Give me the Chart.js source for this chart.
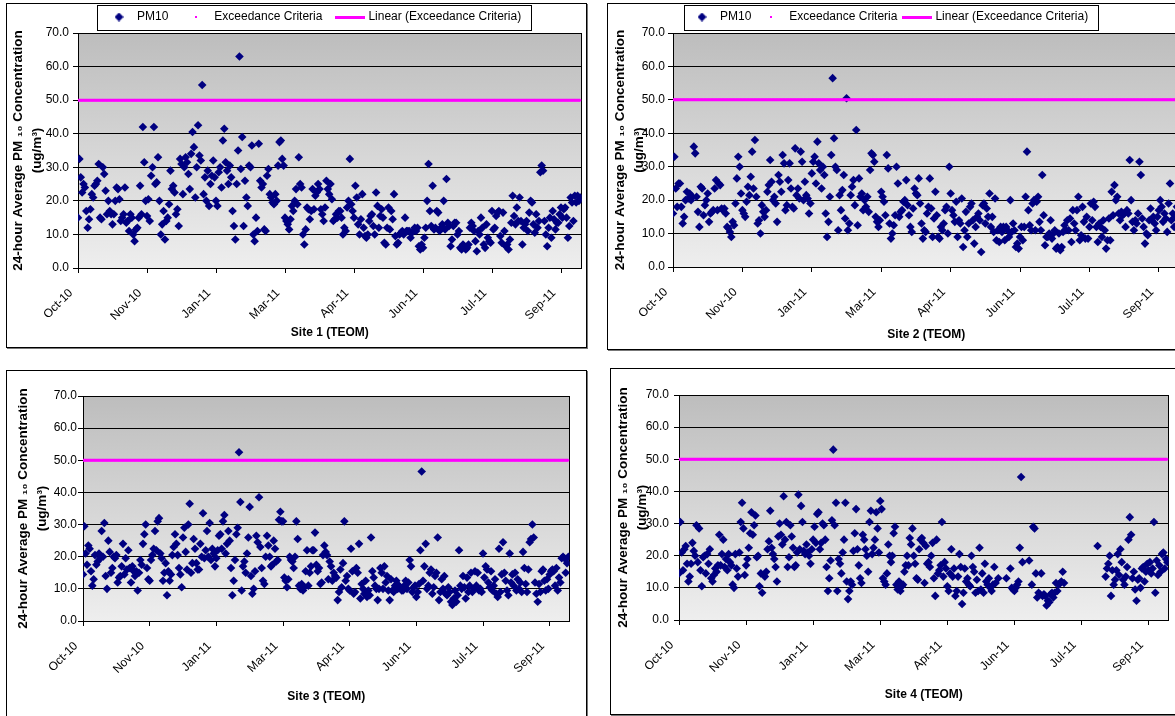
<!DOCTYPE html>
<html>
<head>
<meta charset="utf-8">
<script src="https://cdn.jsdelivr.net/npm/chart.js@4.4.1/dist/chart.umd.min.js"></script>
<style>
  html, body { margin: 0; padding: 0; background: #fff; overflow: hidden; width: 1175px; height: 716px; }
  .frame { position: absolute; box-sizing: border-box; border: 1px solid #000; box-shadow: 1px 1px 0 #777; }
  canvas { position: absolute; }
</style>
</head>
<body>
<div class="frame" style="left:6px;top:3px;width:581px;height:345px"></div>
<div class="frame" style="left:607px;top:3px;width:600px;height:347px"></div>
<div class="frame" style="left:6px;top:370px;width:581px;height:400px"></div>
<div class="frame" style="left:610px;top:368px;width:600px;height:347px"></div>
<canvas id="site1Chart" width="579" height="349" style="left:7px;top:-5px"></canvas>
<canvas id="site2Chart" width="576" height="343" style="left:608px;top:3px"></canvas>
<canvas id="site3Chart" width="567" height="337" style="left:7px;top:371px"></canvas>
<canvas id="site4Chart" width="562" height="337" style="left:611px;top:369px"></canvas>
<script>
/* tick days (days from start of Oct-10) and their labels */
const tickDays = [0, 50, 100, 150, 200, 250, 300, 350];
const tickLabels = ["Oct-10", "Nov-10", "Jan-11", "Mar-11", "Apr-11", "Jun-11", "Jul-11", "Sep-11"];
const criteria = 50;
const yTitle = ["24-hour Average PM \u2081\u2080 Concentration", "(ug/m\u00B3)"];

/* daily 24-hour PM10, one value per day */
const site1 = [
  15,32.5,27,22.5,25,24,17,12,14.5,17.5, 22,21,24.5,25,26,31,15,14.5,30,28,
  23,16,20,17,16,13,16,20,24,23.5, 20.5,14,15,16,24,13.5,14,11,16,15,
  10,8,11.5,12,15,24.5,16,42,31.5,20, 15.5,20.5,14,27.5,30,42,25,25.5,33,20,
  10,13,17,8.5,14,15,19,29,23.5,24.5, 22.5,16,17.5,12.5,32.5,31,22,30,33,31.5,
  28,23.5,34,40.5,36,21,30,42.5,33.5,32, 54.5,22,27,20,29,18.5,25,27.5,32,27,
  20,18.5,28.5,30,24,38,41.5,31.5,29,25, 30.5,27,17,12.5,8.5,25,35,63,29.5,39,
  12.5,26,21,18.5,30.5,30,36.5,10,8,15, 11,37,26,24,25,11.5,11,27.5,29.5,22,
  21,19.5,19,22,20,30.5,37.5,38,32.5,30.5, 15,14,13,11.5,14.5,18.5,17,20,23.5,19,
  33,25,24,10,7,11.5,18,17.5,14.5,17, 23.5,17.5,21.5,22.5,25,23.5,17.5,16,14,18,
  26,23.5,22,25,20.5,14,14.5,16,15,17, 17,15,10,12,11,18,20,32.5,19,17,
  15,24.5,21,13,10,14.5,22,12,9.5,9, 10,14,15.5,16,12.5,10,22.5,18.5,12,15.5,
  17.5,15,7.5,7,12,18,11.5,17,14.5,22, 9.5,7,7.5,10,10.5,11,10,15,11,11,
  11,9,10.5,11,12,11,12,6.5,5.5,7, 6,9,12,20,31,17,12.5,24.5,11.5,12,
  17,16.5,11,12,13,20,11.5,26.5,13.5,12.5, 6.5,8.5,12.5,13.5,13.5,10,11,6,5.5,7,
  6.5,5.5,6,7,12,13.5,12.5,11,8,5, 11,10,15,12,7,6,13,9,8,7.5,
  17,11.5,12,15.5,16.5,17,9.5,7.5,16.5,11, 6.5,7,5.5,8.5,13.5,21.5,15.5,13,18,14,
  21,14,7,12,13,14,11,16.5,20,19.5, 13,10.5,16,12,14,28.5,30.5,29,14,10,
  6.5,12,15,9,17,14.5,11.5,13.5,13.5,16, 18,15,17.5,18,15,9,12.5,21,19.5,14,
  21.5,19.5,21.5,20,21
];
const site2 = [
  16,33,23.5,18,25,25,18,13,15,20, 22.5,20.5,22,20,21,36,34,21,16.5,12,
  24,23.5,15.5,18.5,20,22,13.5,16,16.5,17, 23.5,26,17,25,24.5,17.5,17,17.5,16,12,
  11.5,10.5,9,13.5,12.5,19,26.5,33,30,22, 17,16,15,19.5,24,21.5,27,34.5,23.5,38,
  21,13,14,10,18.5,16.5,15,17,22.5,24.5, 32,25.5,20,21,19,13.5,27.5,25.5,22.5,33.5,
  31,17,18.5,26,31,23.5,18,17.5,35.5,21.5, 23.5,20.5,34.5,31.5,20,25.5,21.5,20.5,16,19,
  28,31.5,33,25,37.5,31,29,23.5,30,27.5, 16,9,13.5,21,33.5,56.5,38.5,30,29,11,
  21.5,17,23,27.5,14.5,50.5,11,13,21.5,24, 26,18.5,41,12.5,26.5,21,22,17,20,18,
  21,16.5,29,34,33.5,31.5,15,13.5,12,14, 22.5,21,19.5,15.5,33.5,29.5,13,8.5,10,12.5,
  15.5,30,25,15,16.5,17,19.5,20,26,18.5, 15.5,12,10.5,17.5,23.5,22,21.5,26.5,19,13,
  8.5,11,10.5,16,18,26.5,17.5,9,14.5,22.5, 15.5,9,8.5,12,11,13,17,18,10,30,
  22,17,15.5,13.5,19.5,9,14,13,20.5,6, 11,16.5,9,13,18,19,14,7,12,15,
  16,14,4.5,18.5,19,13,17.5,15,22,12, 15,10.5,20.5,8,11,7.5,12,10.5,12,8,
  12,11,9,20,10.5,13,11,6,7,5.5, 9,12,8,12,21,34.5,17,12.5,11,19,
  20,11,19.5,21,13.5,11,27.5,15.5,6.5,9, 9,10,14,8.5,10,11,5.5,6,10,5,
  6,10.5,12.5,11,14,11,14.5,7.5,17,13, 11,17,21,8,9.5,18,13.5,8.5,15,8.5,
  12,19,14,19.5,18,12,7.5,13,12,9, 14,11,5.5,8,14.5,8,22.5,15.5,24.5,20,
  21,16,14,16.5,15.5,16,12,17,16,32, 20,13.5,11,14,13,16,31.5,27.5,14.5,12,
  7,10,9.5,14,17.5,14,15,13,11,15, 17,20,18,13.5,16,14.5,10.5,19,25,14,
  16,12,15,18,13
];
const site3 = [
  14.5,29.5,21,17.5,23.5,22.5,15.5,11,13,20.5, 17.5,18.5,21,19.5,28,20,30.5,14,10,25,
  21.5,15,16.5,20,19.5,20.5,12,13.5,14,17, 24,14.5,19.5,16,22,16.5,12,17,15.5,14,
  15.5,9.5,15,19,17.5,24,27,30,16.5,13, 12.5,19,20.5,22.5,28,22,31,32,21,19.5,
  12.5,15,18,8,15.5,12.5,14.5,20.5,23,27, 24,20.5,16.5,14.5,10.5,26,29,21.5,16,30,
  36.5,15,18,25.5,22.5,18,16,16,24,20, 33.5,19.5,22,28,20,30.5,19,22.5,21,17,
  19.5,22,26.5,27,22.5,31,33,21,24,28, 25,16.5,8,12.5,19,27,29,52.5,37,9.5,
  17,18.5,15,21,26,35.5,14,8.5,10,15.5, 26.5,24.5,38.5,23,16.5,12.5,11.5,20,26.5,23.5,
  20,17,17.5,25,22.5,18.5,19,31.5,34,31, 31,13.5,12.5,10.5,13,20,19,18.5,16.5,20,
  31,25.5,11,10,11.5,9.5,10.5,15.5,22,11, 15,17,22,22,27.5,17.5,15.5,16.5,11.5,12,
  20.5,23.5,21.5,20.5,13,18.5,17,12.5,15,14, 13.5,6.5,9,16,10.5,18,31,12.5,14,10,
  9.5,22.5,15.5,8.5,9,16.5,15,24,7,11.5, 10,8.5,12.5,7.5,9.5,8,26,15.5,13.5,11,
  10,6.5,10,16.5,15,10,17,12,14,9.5, 6.5,13,9.5,9,11,12.5,10,11,10.5,9.5,
  9.5,11,12.5,10,12,19,17,9,10.5,11, 7.5,9,11.5,22,46.5,12.5,17,24,10,11,
  15,16,8.5,10.5,14,15,26,6.5,9,13, 10,14,8.5,8,10.5,9,6,5,7,9.5,
  6,8,22,11,10,14,10.5,7,13.5,9, 11,15,9,10,15.5,11,15,9.5,10,9,
  21,13.5,17,16,12,10.5,15.5,9.5,11,13, 8.5,7.5,22.5,9,14.5,24.5,15,12.5,9.5,8,
  21,12,14.5,11,15,9.5,13,10,12,9, 21.5,16.5,11.5,9,16,24.5,25.5,30,26,12,
  8.5,6,11.5,9,15.5,16,12.5,9.5,13,10, 14.5,15.5,16,15.5,11,16.5,9.5,13.5,12,19.5,
  20,19.5,15,18,20
];
const site4 = [
  14.5,30.5,21,15.5,22,23,17.5,12,13.5,17.5, 24,21.5,20,29.5,18,28.5,15.5,10.5,19.5,20,
  14.5,20.5,17.5,22,13,12,14,16,15,17, 26.5,17,20.5,25,16.5,19,15.5,20.5,18,17,
  11,10,20.5,16,13.5,21,30.5,36.5,28.5,14, 17,19,22.5,27,33.5,26.5,29.5,32.5,19.5,20,
  10.5,14.5,8.5,14,13.5,15,22,24.5,34,22.5, 20.5,19,16.5,12,26,30,26.5,23.5,38.5,25,
  30.5,16.5,19.5,29.5,26,22.5,16.5,17,21,39, 22,35.5,30.5,21.5,20.5,23.5,21,20,17.5,22,
  25,29,24,33,33.5,22,24,30,29.5,25, 16.5,9,13,18.5,31,53,29.5,36.5,9,19,
  17.5,14.5,21,25,36.5,12,6.5,9,12,11, 21.5,27,34.5,22,17,13,11.5,26.5,25,22,
  20,15,30.5,34,20.5,22.5,25,33.5,28.5,21, 37,34.5,13,12,11,14.5,23.5,20,18,20,
  27,29,11,9.5,12,9,10.5,11,15,17, 20,17,25.5,23.5,28.5,20,17.5,13,12.5,22,
  25,25.5,24,11.5,23,17.5,18,16.5,20,24, 13,7.5,25,14.5,15.5,17,30.5,13.5,18,16,
  10.5,9,14.5,22,13.5,16,7.5,9,13.5,20.5, 16.5,5,8.5,16,12,13,11,10.5,20,16.5,
  15,8.5,12.5,9,22.5,9.5,14.5,8.5,17.5,12, 11,13,10,9,11,16.5,11.5,null,13,null,
  null,null,null,null,13,null,null,16,10,9.5, 9,10,11,12,22.5,44.5,18,null,null,null,
  null,18.5,null,11,29,28.5,14.5,7,8.5,8, 14.5,7.5,8,7.5,4.5,6,5.5,8,8.5,7,
  8.5,11.5,9,11,11.5,12,15,11.5,null,null, null,null,null,null,null,null,null,null,null,null,
  null,null,null,null,null,null,null,null,null,null, null,null,23,null,null,null,null,null,13.5,16,
  17.5,20,7.5,15.5,11,12.5,15.5,20.5,14,22, 18,12.5,11,13.5,16.5,25,32,26.5,13,15,
  9.5,6,12.5,13,10,16,16.5,12,15,17.5, 15.5,18,14.5,16,30.5,8.5,18.5,14,17,15,
  20.5,21,16,19,18
];

const NAVY = "#000080";
const PINK = "#ff00ff";

Chart.defaults.font.family = "'Liberation Sans', Arial, sans-serif";
Chart.defaults.font.size = 12;
Chart.defaults.color = "#000";

function icon(w, h, paint) {
  const c = document.createElement("canvas");
  c.width = w; c.height = h;
  paint(c.getContext("2d"));
  return c;
}
const legendIcons = [
  icon(9, 9, g => { g.fillStyle = NAVY; g.beginPath(); g.moveTo(4.5, 0); g.lineTo(9, 4.5); g.lineTo(4.5, 9); g.lineTo(0, 4.5); g.closePath(); g.fill(); }),
  icon(2, 2, g => { g.fillStyle = PINK; g.fillRect(0, 0, 2, 2); }),
  icon(30, 3, g => { g.fillStyle = PINK; g.fillRect(0, 0, 30, 3); })
];

/* grey gradient plot area + black frame */
const plotBackground = {
  id: "plotBackground",
  beforeDraw(chart) {
    const { ctx, chartArea: a } = chart;
    const g = ctx.createLinearGradient(0, a.top, 0, a.bottom);
    g.addColorStop(0, "#bdbdbd");
    g.addColorStop(1, "#eeeeee");
    ctx.save();
    ctx.fillStyle = g;
    ctx.fillRect(a.left, a.top, a.right - a.left, a.bottom - a.top);
    ctx.restore();
  },
  beforeDatasetsDraw(chart) {
    const { ctx, chartArea: a } = chart;
    ctx.save();
    ctx.strokeStyle = "#000";
    ctx.lineWidth = 1;
    ctx.beginPath();
    ctx.moveTo(Math.round(a.right) - 0.5, a.top);
    ctx.lineTo(Math.round(a.right) - 0.5, a.bottom);
    ctx.stroke();
    ctx.restore();
  }
};

/* legend placed at a fixed start, with a box drawn round it */
const legendFrame = {
  id: "legendFrame",
  afterLayout(chart, args, opts) {
    chart.legend.left = opts.start - chart.options.plugins.legend.labels.padding;
  },
  afterDraw(chart, args, opts) {
    const boxes = chart.legend.legendHitBoxes;
    if (!boxes || !boxes.length) return;
    const first = boxes[0], last = boxes[boxes.length - 1];
    const cy = first.top + first.height / 2;
    const x0 = Math.round(first.left - opts.left) + 0.5;
    const x1 = Math.round(last.left + last.width + opts.right) + 0.5;
    const y0 = Math.round(cy - 12.5) + 0.5, y1 = Math.round(cy + 12.5) + 0.5;
    const ctx = chart.ctx;
    ctx.save();
    ctx.strokeStyle = "#000";
    ctx.lineWidth = 1;
    ctx.strokeRect(x0, y0, x1 - x0, y1 - y0);
    ctx.restore();
  }
};

function buildChart(id, values, siteTitle, p) {
  const pm = values.map((v, i) => ({ x: i, y: v }));
  const crit = values.map((v, i) => ({ x: i, y: criteria }));
  const trend = [{ x: 0, y: criteria }, { x: values.length - 1, y: criteria }];
  return new Chart(document.getElementById(id), {
    type: "scatter",
    data: {
      datasets: [
        { label: "PM10", data: pm, pointStyle: "rectRot", pointRadius: 4.3, pointBorderWidth: 0,
          backgroundColor: NAVY, borderColor: NAVY, order: 3 },
        { label: "Exceedance Criteria", data: crit, pointStyle: "rect", pointRadius: 1.4, pointBorderWidth: 0,
          backgroundColor: PINK, borderColor: PINK, order: 2 },
        { type: "line", label: "Linear (Exceedance Criteria)", data: trend, borderColor: PINK,
          borderWidth: 3, pointRadius: 0, fill: false, order: 1 }
      ]
    },
    plugins: [plotBackground, legendFrame],
    options: {
      responsive: false,
      animation: false,
      devicePixelRatio: 1,
      layout: { padding: { top: p.padTop || 0, right: p.padRight || 0, left: 0, bottom: 0 } },
      plugins: {
        tooltip: { enabled: false },
        legend: {
          display: p.legend,
          position: "top",
          align: "start",
          maxHeight: p.legendHeight,
          labels: {
            usePointStyle: true,
            pointStyleWidth: 24,
            padding: p.legendPad || 10,
            color: "#000",
            font: { size: 12 },
            generateLabels: chart => Chart.defaults.plugins.legend.labels.generateLabels(chart)
              .sort((a, b) => a.datasetIndex - b.datasetIndex)
              .map((item, i) => Object.assign(item, { pointStyle: legendIcons[i] }))
          }
        },
        legendFrame: p.legend ? { start: p.legendStart, left: p.frameL, right: p.frameR } : false
      },
      scales: {
        x: {
          type: "linear",
          min: 0,
          max: 365,
          afterBuildTicks: s => { s.ticks = tickDays.map(v => ({ value: v })); },
          afterFit: s => { s.height = p.xHeight; s.paddingLeft = 0; s.paddingRight = 0; },
          ticks: { autoSkip: false, minRotation: 45, maxRotation: 45, padding: 13, labelOffset: -7,
                   callback: (v, i) => tickLabels[i] },
          grid: { drawOnChartArea: false, drawTicks: true, tickLength: 5, color: "#000" },
          border: { color: "#000" },
          title: { display: true, text: siteTitle, font: { size: 12, weight: "bold" },
                   padding: { top: 0, bottom: 4 } }
        },
        y: {
          min: 0,
          max: 70,
          afterFit: s => { s.width = p.yWidth; },
          ticks: { stepSize: 10, padding: p.yTickPad, callback: v => v.toFixed(1) },
          grid: { color: "#000", tickLength: 5 },
          border: { color: "#000" },
          title: { display: true, text: yTitle, font: { size: 13.5, weight: "bold", lineHeight: 1.4 },
                   padding: { top: p.yTitlePad, bottom: 0 } }
        }
      }
    }
  });
}

buildChart("site1Chart", site1, "Site 1 (TEOM)", {
  legend: true, legendHeight: 43, legendPad: 16, legendStart: 100, frameL: 10, frameR: 10,
  padRight: 1, yWidth: 71, xHeight: 76, yTickPad: 4, yTitlePad: 2.3
});
buildChart("site2Chart", site2, "Site 2 (TEOM)", {
  legend: true, legendHeight: 35, legendPad: 8, legendStart: 82, frameL: 6, frameR: 10,
  yWidth: 65, xHeight: 79, yTickPad: 3, yTitlePad: 2.5
});
buildChart("site3Chart", site3, "Site 3 (TEOM)", {
  legend: false, padTop: 25, yWidth: 76, xHeight: 87, yTickPad: 1, yTitlePad: 6.5
});
buildChart("site4Chart", site4, "Site 4 (TEOM)", {
  legend: false, padTop: 26, yWidth: 68, xHeight: 86, yTickPad: 5, yTitlePad: 2.5
});
</script>
</body>
</html>
